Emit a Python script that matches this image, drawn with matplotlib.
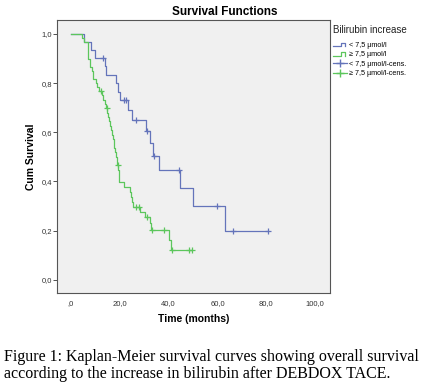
import matplotlib
matplotlib.use("Agg")
import matplotlib.pyplot as plt
from matplotlib.lines import Line2D
from matplotlib.legend_handler import HandlerBase

plt.rcParams["font.family"] = ["Liberation Sans", "DejaVu Sans"]

# ---- data ----
group_labels = ["< 7,5 µmol/l", "≥ 7,5 µmol/l"]

blue_event_t = [0, 5.6, 8.5, 9.8, 14.2, 14.6, 18.6, 19.4, 20.2, 23.6, 24.9, 30.6, 32.4,
                33.8, 36.2, 44.5, 49.8, 62.9]
blue_event_s = [1.0, 0.967, 0.935, 0.903, 0.868, 0.833, 0.800, 0.766, 0.732, 0.692, 0.651,
                0.604, 0.555, 0.505, 0.447, 0.374, 0.300, 0.200]
blue_end_t = 80.6
blue_cens_t = [13.1, 21.7, 22.5, 26.7, 31.3, 34.2, 44.3, 59.7, 66.2, 80.6]
blue_cens_s = [0.903, 0.732, 0.732, 0.651, 0.604, 0.505, 0.447, 0.300, 0.200, 0.200]

green_event_t = [0, 4.8, 5.6, 6.9, 7.2, 7.7, 8.6, 9.3, 10.2, 10.6, 11.7, 12.9, 13.3, 14.0,
                 14.4, 15.0, 15.4, 15.8, 16.2, 16.5, 16.9, 17.2, 17.6, 17.9, 18.3, 18.6,
                 18.9, 19.1, 19.5, 19.7, 19.9, 21.9, 24.4, 24.7, 25.1, 25.6, 28.3, 30.4,
                 32.3, 32.8, 40.3, 41.0]
green_event_s = [1.0, 0.983, 0.967, 0.933, 0.900, 0.867, 0.850, 0.817, 0.800, 0.783, 0.767,
                 0.750, 0.733, 0.715, 0.698, 0.680, 0.662, 0.645, 0.627, 0.609, 0.591, 0.573,
                 0.555, 0.537, 0.519, 0.501, 0.483, 0.465, 0.446, 0.420, 0.397, 0.378, 0.358,
                 0.338, 0.318, 0.298, 0.277, 0.254, 0.229, 0.203, 0.163, 0.122]
green_end_t = 49.7
green_cens_t = [12.4, 14.7, 19.2, 26.6, 27.8, 31.3, 33.1, 38.0, 41.5, 48.4, 49.7]
green_cens_s = [0.767, 0.698, 0.465, 0.298, 0.298, 0.254, 0.203, 0.203, 0.122, 0.122, 0.122]

x_ticks = [0, 20, 40, 60, 80, 100]
x_tick_labels = [",0", "20,0", "40,0", "60,0", "80,0", "100,0"]
y_ticks = [0.0, 0.2, 0.4, 0.6, 0.8, 1.0]
y_tick_labels = ["0,0", "0,2", "0,4", "0,6", "0,8", "1,0"]

BLUE = "#6474ba"
GREEN = "#5cc65c"

fig = plt.figure(figsize=(4.29, 3.92), dpi=100)
ax = fig.add_axes([57 / 429, 1 - 293 / 392, (330 - 57) / 429, (293 - 20) / 392])
ax.set_facecolor("#f0f0f0")

for et, es, end, ct, cs, col in [
    (blue_event_t, blue_event_s, blue_end_t, blue_cens_t, blue_cens_s, BLUE),
    (green_event_t, green_event_s, green_end_t, green_cens_t, green_cens_s, GREEN),
]:
    ax.step(list(et) + [end], list(es) + [es[-1]], where="post", color=col, lw=0.9)
    ax.plot(ct, cs, linestyle="none", marker="+", color=col, ms=5, mew=0.9)

ax.set_xlim(-5.6, 106)
ax.set_ylim(-0.054, 1.057)
ax.set_xticks(x_ticks)
ax.set_xticklabels(x_tick_labels)
ax.set_yticks(y_ticks)
ax.set_yticklabels(y_tick_labels)
ax.tick_params(axis="y", labelsize=5.5, length=3, width=0.6, colors="#333333", pad=0.5)
ax.tick_params(axis="x", labelsize=5.5, length=0, colors="#333333", pad=5)
for s in ax.spines.values():
    s.set_color("#555555")
    s.set_linewidth(0.8)

ax.set_xlabel("Time (months)", fontsize=7.5, fontweight="bold", labelpad=5)
ax.set_ylabel("Cum Survival", fontsize=7.5, fontweight="bold", labelpad=4)
fig.text(225 / 429, 1 - 12 / 392, "Survival Functions", ha="center", va="center",
         fontsize=8.5, fontweight="bold")


class StepHandler(HandlerBase):
    def create_artists(self, legend, orig_handle, xdescent, ydescent, width, height,
                       fontsize, trans):
        x0 = -xdescent
        y0, y1 = -ydescent + 0.1 * height, -ydescent + 0.8 * height
        xm = x0 + 0.55 * width
        xm2 = x0 + 0.85 * width
        ln = Line2D([x0, xm, xm, xm2, xm2], [y0, y0, y1, y1, y0],
                    color=orig_handle.get_color(), lw=0.9, transform=trans)
        return [ln]


h1 = Line2D([], [], color=BLUE)
h2 = Line2D([], [], color=GREEN)
h3 = Line2D([], [], color=BLUE, marker="+", ms=6, lw=0.9)
h4 = Line2D([], [], color=GREEN, marker="+", ms=6, lw=0.9)
leg = fig.legend([h1, h2, h3, h4],
                 [group_labels[0], group_labels[1],
                  group_labels[0] + "-cens.", group_labels[1] + "-cens."],
                 handler_map={h1: StepHandler(), h2: StepHandler()},
                 loc="upper left", bbox_to_anchor=(332 / 429, 1 - 24 / 392),
                 frameon=False, fontsize=5.2, title="Bilirubin increase",
                 title_fontsize=7, handlelength=2.0, handletextpad=0.2,
                 labelspacing=0.35, borderaxespad=0, borderpad=0.1,
                 alignment="left")
leg.get_title().set_color("#222222")
leg._legend_box.sep = 5

fig.text(4 / 429, 1 - 357 / 392,
         "Figure 1: Kaplan-Meier survival curves showing overall survival",
         fontsize=11.5, family="Liberation Serif", va="center", ha="left")
fig.text(4 / 429, 1 - 374 / 392,
         "according to the increase in bilirubin after DEBDOX TACE.",
         fontsize=11.5, family="Liberation Serif", va="center", ha="left")

fig.savefig("out.png", dpi=100, facecolor="white")
